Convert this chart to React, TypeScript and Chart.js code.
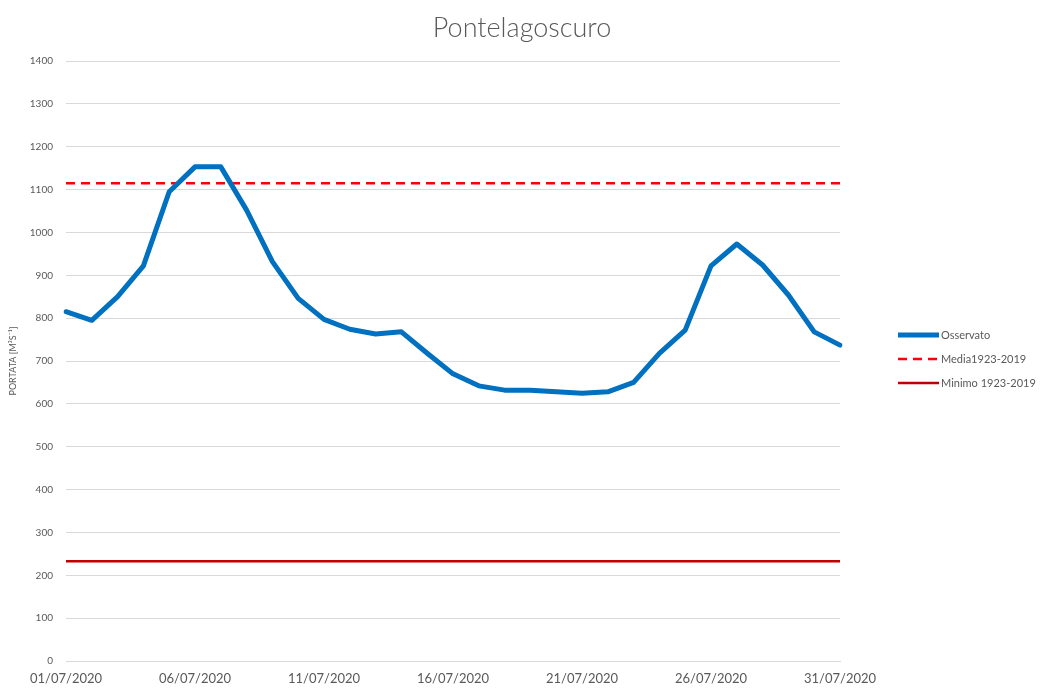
import React, { useEffect, useRef } from "react";
import { Chart, registerables } from "chart.js";

Chart.register(...registerables);

const dateLabels: string[] = [
  "01/07/2020", "02/07/2020", "03/07/2020", "04/07/2020", "05/07/2020",
  "06/07/2020", "07/07/2020", "08/07/2020", "09/07/2020", "10/07/2020",
  "11/07/2020", "12/07/2020", "13/07/2020", "14/07/2020", "15/07/2020",
  "16/07/2020", "17/07/2020", "18/07/2020", "19/07/2020", "20/07/2020",
  "21/07/2020", "22/07/2020", "23/07/2020", "24/07/2020", "25/07/2020",
  "26/07/2020", "27/07/2020", "28/07/2020", "29/07/2020", "30/07/2020",
  "31/07/2020",
];

const osservato: number[] = [
  815, 795, 850, 922, 1095, 1153, 1153, 1052, 932, 846,
  797, 774, 763, 768, 718, 670, 642, 632, 632, 628,
  625, 628, 650, 718, 772, 922, 973, 924, 854, 768,
  737,
];

const media: number[] = [
  1115, 1115, 1115, 1115, 1115, 1115, 1115, 1115, 1115, 1115,
  1115, 1115, 1115, 1115, 1115, 1115, 1115, 1115, 1115, 1115,
  1115, 1115, 1115, 1115, 1115, 1115, 1115, 1115, 1115, 1115,
  1115,
];

const minimo: number[] = [
  233, 233, 233, 233, 233, 233, 233, 233, 233, 233,
  233, 233, 233, 233, 233, 233, 233, 233, 233, 233,
  233, 233, 233, 233, 233, 233, 233, 233, 233, 233,
  233,
];

const seriesNames: string[] = ["Osservato", "Media1923-2019", "Minimo 1923-2019"];
const titleText = "Pontelagoscuro";
const yAxisTitle = "PORTATA [M³S⁻¹]";

const TEXT = "#595959";
const FONT = "Lato, 'Open Sans', sans-serif";

const titleLegendPlugin = {
  id: "titleLegend",
  afterDraw(chart: any) {
    const ctx = chart.ctx;
    ctx.save();
    // title
    ctx.fillStyle = TEXT;
    ctx.font = `300 27px ${FONT}`;
    ctx.textAlign = "center";
    ctx.textBaseline = "middle";
    ctx.fillText(titleText, 522, 28);
    // legend
    const x0 = 898;
    const lineLen = 41;
    const ys = [335, 359, 383];
    chart.data.datasets.forEach((ds: any, i: number) => {
      const y = ys[i];
      ctx.beginPath();
      ctx.strokeStyle = ds.borderColor;
      ctx.lineWidth = ds.borderWidth;
      ctx.setLineDash(ds.borderDash || []);
      ctx.moveTo(x0, y);
      ctx.lineTo(x0 + lineLen, y);
      ctx.stroke();
      ctx.setLineDash([]);
      ctx.fillStyle = TEXT;
      ctx.font = `11px ${FONT}`;
      ctx.textAlign = "left";
      ctx.textBaseline = "middle";
      ctx.fillText(ds.label, x0 + lineLen + 2, y);
    });
    ctx.restore();
  },
};

export default function App() {
  const ref = useRef<HTMLCanvasElement | null>(null);

  useEffect(() => {
    if (!ref.current) return;
    const chart = new Chart(ref.current, {
      type: "line",
      data: {
        labels: dateLabels,
        datasets: [
          {
            label: seriesNames[0],
            data: osservato,
            borderColor: "#0070C0",
            borderWidth: 5,
            pointRadius: 0,
            tension: 0,
            borderJoinStyle: "round",
            borderCapStyle: "round",
          },
          {
            label: seriesNames[1],
            data: media,
            borderColor: "#FF0000",
            borderWidth: 2.5,
            borderDash: [9, 6],
            pointRadius: 0,
          },
          {
            label: seriesNames[2],
            data: minimo,
            borderColor: "#C00000",
            borderWidth: 2.5,
            pointRadius: 0,
          },
        ],
      },
      options: {
        animation: false,
        responsive: false,
        layout: { padding: { left: 8, right: 202, top: 61, bottom: 0 } },
        plugins: {
          legend: { display: false },
          tooltip: { enabled: false },
          title: { display: false },
        },
        scales: {
          x: {
            offset: false,
            grid: { display: false, drawTicks: false },
            border: { display: true, color: "#D9D9D9", width: 1 },
            ticks: {
              autoSkip: false,
              maxRotation: 0,
              minRotation: 0,
              padding: 10,
              color: TEXT,
              font: { family: FONT, size: 13 },
              callback: (_v: any, i: number) => (i % 5 === 0 ? dateLabels[i] : null),
            },
            afterFit: (scale: any) => {
              scale.height = 27;
            },
          },
          y: {
            min: 0,
            max: 1400,
            grid: { color: "#D9D9D9", lineWidth: 1, drawTicks: false },
            border: { display: false },
            ticks: {
              stepSize: 100,
              padding: 13,
              color: TEXT,
              font: { family: FONT, size: 10 },
              callback: (v: any) => String(v),
            },
            title: {
              display: true,
              text: yAxisTitle,
              color: TEXT,
              font: { family: FONT, size: 9 },
              padding: { top: 0, bottom: 0 },
            },
            afterFit: (scale: any) => {
              scale.width = 58;
            },
          },
        },
      },
      plugins: [titleLegendPlugin],
    });
    return () => chart.destroy();
  }, []);

  return (
    <div style={{ position: "fixed", left: 0, top: 0, width: 1042, height: 688, background: "#fff" }}>
      <canvas ref={ref} width={1042} height={688} />
    </div>
  );
}
